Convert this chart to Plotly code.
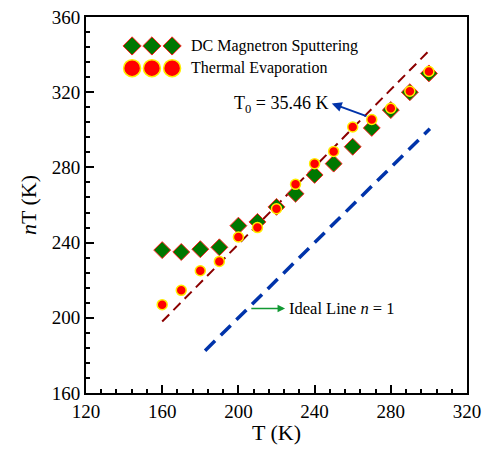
import plotly.graph_objects as go

T = [160, 170, 180, 190, 200, 210, 220, 230, 240, 250, 260, 270, 280, 290, 300]
dc_sputtering = [236, 235, 236.5, 237.5, 249, 251, 259, 266, 276, 282, 291, 301, 310.5, 320, 330]
thermal_evap = [207, 214.6, 225, 230, 243, 248, 258, 271, 282, 288.5, 301.5, 305.5, 311.5, 320.5, 331]
fit_T = [160, 300]
fit_nT = [198, 342]
ideal_T = [182.5, 300.5]
ideal_nT = [182.5, 300.5]
x_ticks = [120, 160, 200, 240, 280, 320]
y_ticks = [160, 200, 240, 280, 320, 360]

FONT = "Times New Roman, Liberation Serif, serif"
fig = go.Figure()

fig.add_trace(go.Scatter(x=fit_T, y=fit_nT, mode="lines",
                         line=dict(color="#8B0000", width=2, dash="10px,6px"), showlegend=False))
fig.add_trace(go.Scatter(x=ideal_T, y=ideal_nT, mode="lines",
                         line=dict(color="#0033AA", width=3.5, dash="14px,8px"), showlegend=False))
fig.add_trace(go.Scatter(x=T, y=dc_sputtering, mode="markers",
                         marker=dict(symbol="diamond", size=13, color="#007700",
                                     line=dict(color="#FF2020", width=1)), showlegend=False))
fig.add_trace(go.Scatter(x=T, y=thermal_evap, mode="markers",
                         marker=dict(symbol="circle", size=10, color="#FF0000",
                                     line=dict(color="#FFEE00", width=1.5)), showlegend=False))

# legend symbols on an overlay axis spanning the plot area
leg_x = [0.121, 0.173, 0.226]
fig.add_trace(go.Scatter(x=leg_x, y=[0.923] * 3, mode="markers", xaxis="x2", yaxis="y2",
                         marker=dict(symbol="diamond", size=14, color="#007700",
                                     line=dict(color="#FF2020", width=1)), showlegend=False))
fig.add_trace(go.Scatter(x=leg_x, y=[0.864] * 3, mode="markers", xaxis="x2", yaxis="y2",
                         marker=dict(symbol="circle", size=17, color="#FF0000",
                                     line=dict(color="#FFEE00", width=1.5)), showlegend=False))

fig.add_annotation(x=0.27, y=0.923, xref="paper", yref="paper", text="DC Magnetron Sputtering",
                   showarrow=False, xanchor="left", yanchor="middle",
                   font=dict(family=FONT, size=16, color="black"))
fig.add_annotation(x=0.27, y=0.864, xref="paper", yref="paper", text="Thermal Evaporation",
                   showarrow=False, xanchor="left", yanchor="middle",
                   font=dict(family=FONT, size=16, color="black"))

fig.add_annotation(x=248, y=313.5, text="T<sub>0</sub> = 35.46 K", showarrow=False,
                   xanchor="right", yanchor="middle", font=dict(family=FONT, size=18, color="black"))
fig.add_annotation(x=249, y=314, ax=268, ay=307, axref="x", ayref="y",
                   showarrow=True, arrowhead=2, arrowsize=1, arrowwidth=2, arrowcolor="#0033AA", text="")
fig.add_annotation(x=225.5, y=205, text="Ideal Line <i>n</i> = 1", showarrow=False,
                   xanchor="left", yanchor="middle", font=dict(family=FONT, size=16.5, color="black"))
fig.add_annotation(x=224.5, y=205, ax=206, ay=205, axref="x", ayref="y",
                   showarrow=True, arrowhead=2, arrowsize=1, arrowwidth=1.5, arrowcolor="#119933", text="")

# axis titles
fig.add_annotation(x=0.5, y=-0.104, xref="paper", yref="paper", text="T (K)", showarrow=False,
                   xanchor="center", yanchor="middle", font=dict(family=FONT, size=22, color="black"))
fig.add_annotation(x=-0.152, y=0.5, xref="paper", yref="paper", text="<i>n</i>T (K)", showarrow=False,
                   textangle=-90, xanchor="center", yanchor="middle",
                   font=dict(family=FONT, size=22, color="black"))

axis_common = dict(showgrid=False, zeroline=False, showline=True, linecolor="black", linewidth=2,
                   mirror=True, ticks="inside", ticklen=8, tickwidth=2, tickcolor="black",
                   ticklabeloverflow="allow",
                   tickfont=dict(family=FONT, size=19, color="black"),
                   minor=dict(ticks="inside", ticklen=4, tickwidth=1.5, tickcolor="black", dtick=8))

fig.update_layout(
    width=489, height=445,
    font=dict(family=FONT, color="black"),
    margin=dict(l=78, r=30, t=9, b=60, autoexpand=False),
    paper_bgcolor="white", plot_bgcolor="white",
    xaxis=dict(range=[120, 320], tickvals=x_ticks, **axis_common),
    yaxis=dict(range=[160, 360], tickvals=y_ticks, **axis_common),
    xaxis2=dict(range=[0, 1], overlaying="x", visible=False),
    yaxis2=dict(range=[0, 1], overlaying="y", visible=False),
    showlegend=False,
)

fig.write_html("out.html")
